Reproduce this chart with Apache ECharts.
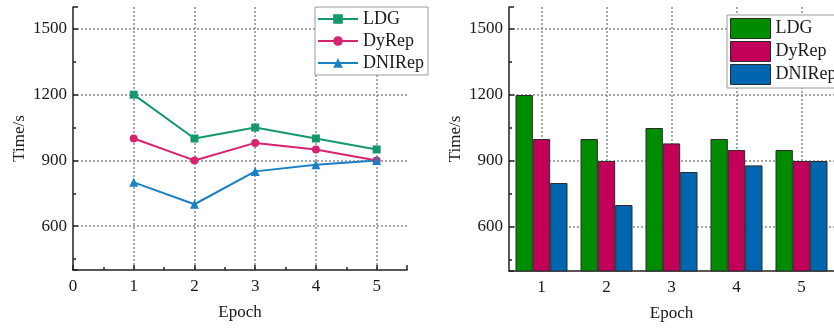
<!DOCTYPE html>
<html>
<head>
<meta charset="utf-8">
<script src="https://cdn.jsdelivr.net/npm/echarts@6/dist/echarts.min.js"></script>
<style>
html,body{margin:0;padding:0;background:#fff;}
#c{width:834px;height:329px;}
</style>
</head>
<body>
<div id="c"></div>
<script>
const epochs = [1, 2, 3, 4, 5];
const categories = ['1', '2', '3', '4', '5'];
const seriesNames = ['LDG', 'DyRep', 'DNIRep'];
const ldg = [1200, 1000, 1050, 1000, 950];
const dyrep = [1000, 900, 980, 950, 900];
const dnirep = [800, 700, 850, 880, 900];
const yMin = 400, yMax = 1600;

const lineColors = ['#13996b', '#d6246e', '#1b80c4'];
const barColors = ['#008c00', '#c2005a', '#0066b0'];
const symbols = ['rect', 'circle', 'triangle'];
const values = [ldg, dyrep, dnirep];

const font = 'Liberation Serif';
const txt = '#1a1a1a';
const gridLine = {show: true, showMinLine: false, showMaxLine: false,
  lineStyle: {color: '#8c8c8c', width: 1.5, type: [2, 2]}};
const axisLine = {show: true, onZero: false, lineStyle: {color: '#222', width: 1.5}};

function yAxis(gi) {
  return {
    type: 'value', gridIndex: gi, min: yMin, max: yMax, splitNumber: 4,
    axisLine: axisLine,
    axisTick: {show: true, inside: true, length: 5, lineStyle: {color: '#222', width: 1.5}},
    minorTick: {show: true, splitNumber: 2, length: 3, lineStyle: {color: '#222', width: 1.5}},
    axisLabel: {fontFamily: font, fontSize: 17, color: txt, margin: 6,
      formatter: v => (v % 300 === 0 ? String(v) : '')},
    splitLine: gridLine,
    name: 'Time/s', nameLocation: 'middle', nameGap: 45,
    nameTextStyle: {fontFamily: font, fontSize: 17, color: txt}
  };
}

const series = [];
seriesNames.forEach((n, i) => {
  series.push({
    type: 'line', name: n, xAxisIndex: 0, yAxisIndex: 0,
    data: epochs.map((e, k) => [e, values[i][k]]),
    symbol: symbols[i], symbolSize: symbols[i] === 'triangle' ? 9 : 8,
    lineStyle: {color: lineColors[i], width: 2},
    itemStyle: {color: lineColors[i]}
  });
});
seriesNames.forEach((n, i) => {
  series.push({
    type: 'bar', name: n, xAxisIndex: 1, yAxisIndex: 1,
    data: values[i],
    barGap: '0%', barCategoryGap: '20%',
    itemStyle: {color: barColors[i], borderColor: '#2a2a2a', borderWidth: 1}
  });
});

const option = {
  animation: false,
  backgroundColor: '#fff',
  grid: [
    {left: 73, right: 427, top: 7, bottom: 59},
    {left: 509, right: -8, top: 7, bottom: 58}
  ],
  xAxis: [
    {
      type: 'value', gridIndex: 0, min: 0, max: 5.5, interval: 1,
      axisLine: axisLine,
      axisTick: {show: true, inside: true, length: 5, lineStyle: {color: '#222', width: 1.5}},
      minorTick: {show: true, splitNumber: 2, length: 3, lineStyle: {color: '#222', width: 1.5}},
      axisLabel: {fontFamily: font, fontSize: 17, color: txt, margin: 8, showMaxLabel: false,
        formatter: v => (Number.isInteger(v) ? String(v) : '')},
      splitLine: gridLine,
      name: 'Epoch', nameLocation: 'middle', nameGap: 34,
      nameTextStyle: {fontFamily: font, fontSize: 17, color: txt}
    },
    {
      type: 'category', gridIndex: 1, data: categories,
      axisLine: axisLine,
      axisTick: {show: true, inside: true, alignWithLabel: true, length: 5, lineStyle: {color: '#222', width: 1.5}},
      axisLabel: {fontFamily: font, fontSize: 17, color: txt, margin: 8},
      splitLine: {show: false},
      name: 'Epoch', nameLocation: 'middle', nameGap: 34,
      nameTextStyle: {fontFamily: font, fontSize: 17, color: txt}
    },
    {
      type: 'value', gridIndex: 1, min: 0.5, max: 5.5,
      axisLine: {show: false}, axisTick: {show: false}, axisLabel: {show: false},
      splitLine: gridLine
    }
  ],
  yAxis: [yAxis(0), yAxis(1)],
  legend: [
    {
      left: 315, top: 7, orient: 'vertical',
      data: seriesNames,
      itemWidth: 40, itemHeight: 12, itemGap: 4,
      padding: [3, 4, 3, 2],
      backgroundColor: '#fff', borderColor: '#9a9a9a', borderWidth: 1, borderRadius: 0,
      textStyle: {fontFamily: font, fontSize: 18, color: txt, lineHeight: 18},
      selectedMode: false
    },
    {
      left: 727, top: 15, orient: 'vertical',
      data: seriesNames.map((n, i) => ({name: n, icon: 'rect',
        itemStyle: {color: barColors[i], borderColor: '#2a2a2a', borderWidth: 1}})),
      itemWidth: 40, itemHeight: 20, itemGap: 2,
      padding: [3, 4, 3, 3],
      backgroundColor: '#fff', borderColor: '#9a9a9a', borderWidth: 1, borderRadius: 0,
      textStyle: {fontFamily: font, fontSize: 18, color: txt, lineHeight: 20},
      selectedMode: false
    }
  ],
  series: series
};

const chart = echarts.init(document.getElementById('c'), null, {renderer: 'canvas'});
chart.setOption(option);
</script>
</body>
</html>
